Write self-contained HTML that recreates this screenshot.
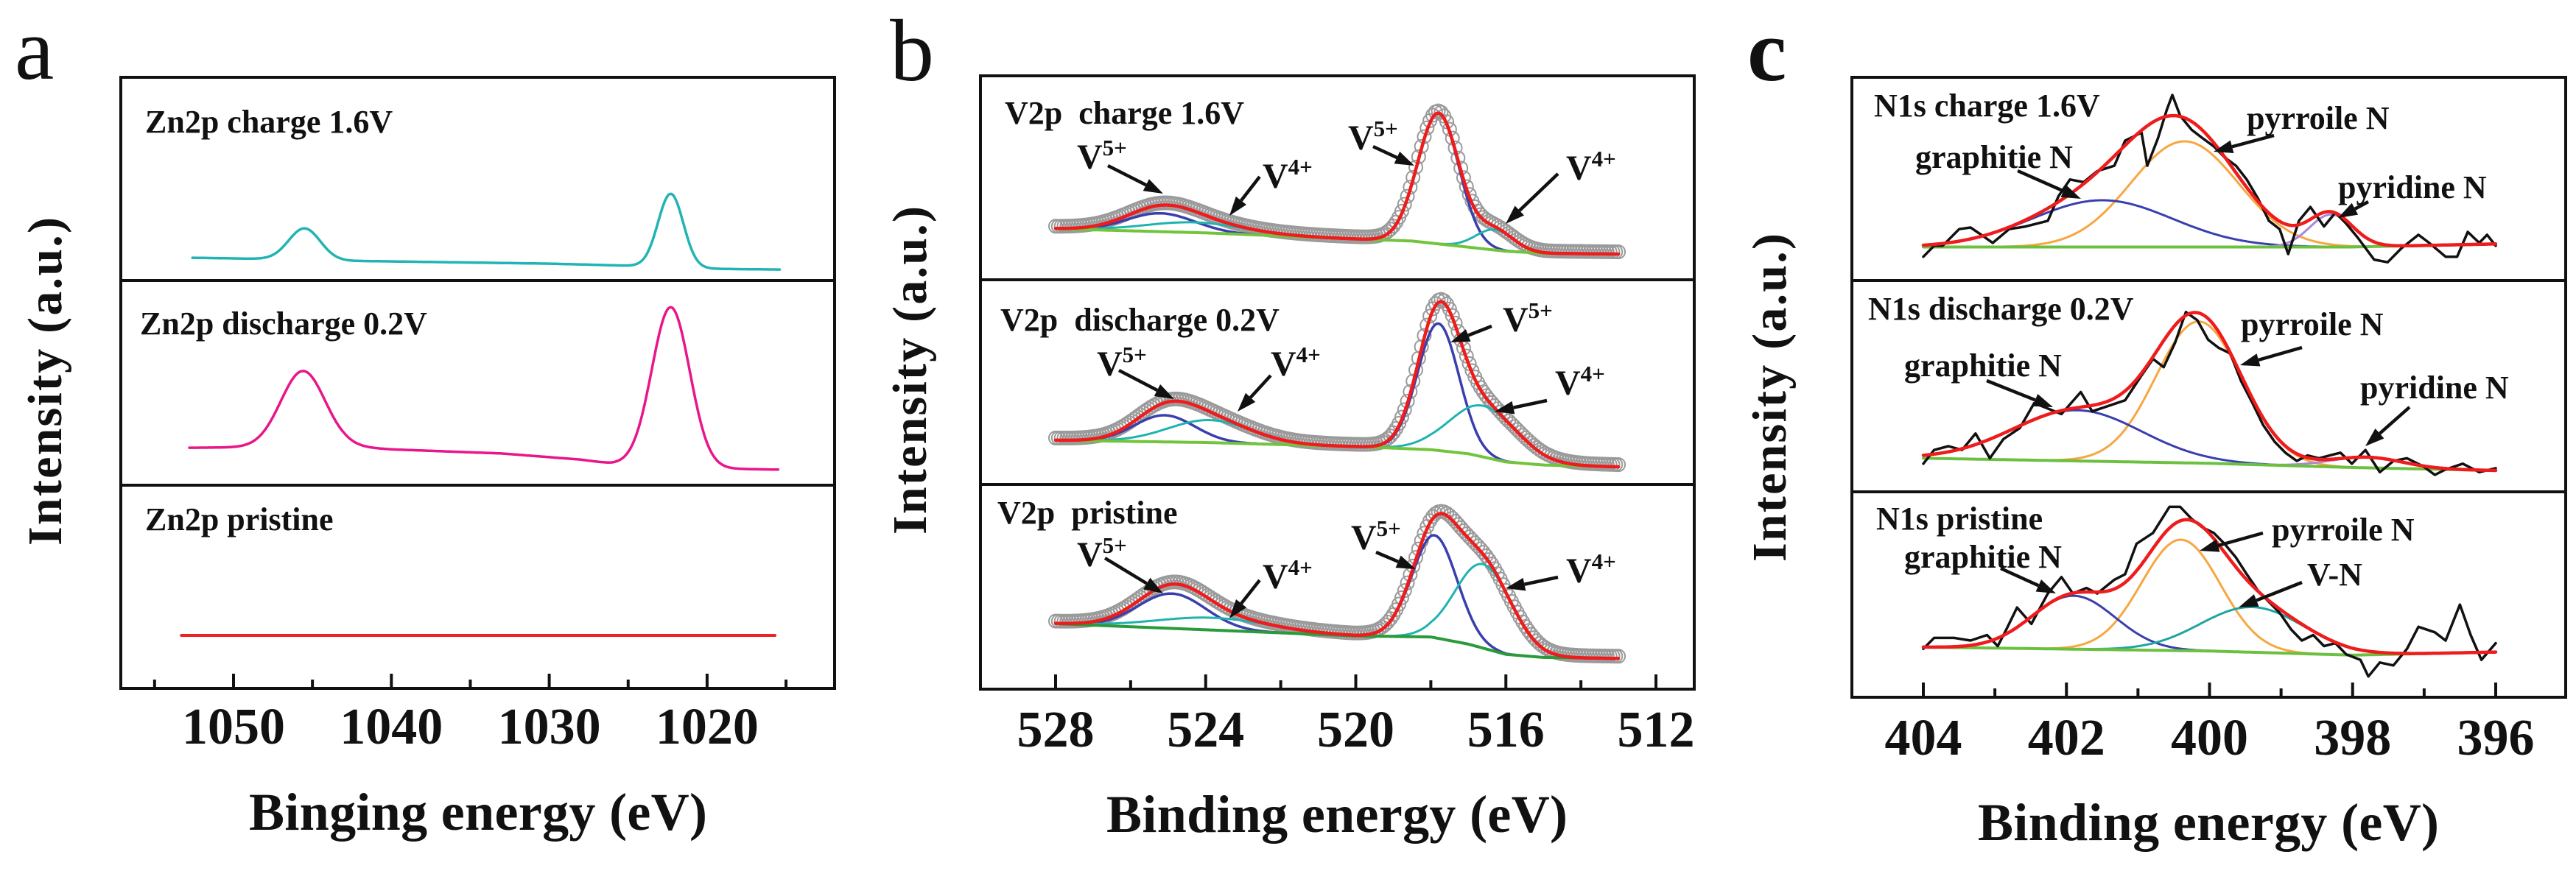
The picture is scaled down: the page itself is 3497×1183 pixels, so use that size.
<!DOCTYPE html>
<html><head><meta charset="utf-8"><style>
html,body{margin:0;padding:0;background:#fff}
svg{display:block}
text{font-family:"Liberation Serif",serif;font-weight:bold;fill:#111}
</style></head><body>
<svg id="fig" xmlns="http://www.w3.org/2000/svg" width="3497" height="1183" viewBox="0 0 3497 1183">
<rect width="3497" height="1183" fill="#fff"/>
<text x="20" y="107" font-size="120" style="font-weight:normal">a</text>
<text x="1208" y="109" font-size="120" style="font-weight:normal">b</text>
<text x="2372" y="109" font-size="120">c</text>
<g id="plots"></g>
<g fill="none" stroke="#111" stroke-width="4">
<rect x="164" y="105" width="969" height="830"/>
<line x1="164" y1="381" x2="1133" y2="381"/>
<line x1="164" y1="659" x2="1133" y2="659"/>
<rect x="1331" y="103" width="969" height="833"/>
<line x1="1331" y1="380" x2="2300" y2="380"/>
<line x1="1331" y1="658" x2="2300" y2="658"/>
<rect x="2514" y="105" width="969" height="842"/>
<line x1="2514" y1="381" x2="3483" y2="381"/>
<line x1="2514" y1="668" x2="3483" y2="668"/>
</g>
<text x="649" y="1127" font-size="72" text-anchor="middle" textLength="622">Binging energy (eV)</text>
<text x="1815" y="1130" font-size="72" text-anchor="middle" textLength="626">Binding energy (eV)</text>
<text x="2998" y="1141" font-size="72" text-anchor="middle" textLength="626">Binding energy (eV)</text>
<text transform="translate(83,518) rotate(-90)" font-size="66" text-anchor="middle" textLength="446">Intensity (a.u.)</text>
<text transform="translate(1257,503) rotate(-90)" font-size="66" text-anchor="middle" textLength="446">Intensity (a.u.)</text>
<text transform="translate(2424,540) rotate(-90)" font-size="66" text-anchor="middle" textLength="446">Intensity (a.u.)</text>
<g font-size="44">
<text x="197" y="180">Zn2p charge 1.6V</text>
<text x="190" y="454">Zn2p discharge 0.2V</text>
<text x="197" y="720">Zn2p pristine</text>
<text x="1364" y="168" xml:space="preserve">V2p  charge 1.6V</text>
<text x="1358" y="449" xml:space="preserve">V2p  discharge 0.2V</text>
<text x="1354" y="711" xml:space="preserve">V2p  pristine</text>
<text x="2544" y="158">N1s charge 1.6V</text>
<text x="2536" y="434">N1s discharge 0.2V</text>
<text x="2547" y="719">N1s pristine</text>
</g>
</svg>
<script>
// ---------- Panel a data ----------
const aTicks=[1055,1050,1045,1040,1035,1030,1025,1020,1015];
const aTickLabels=[1050,1040,1030,1020];
const aChargeBaseE=[1052.6,1047,1044,1040,1030,1025,1023,1021,1018,1015.4];
const aChargeBaseV=[11.2,10.5,9.8,9.4,8.3,7.3,7.0,6.0,5.6,5.4];
const aChargePeakC=[1045.5,1022.3];
const aChargePeakA=[15.5,36];
const aChargePeakS=[1.0,0.8];
const aDisBaseE=[1052.6,1048,1043,1040,1033,1028,1026,1024,1020,1015.4];
const aDisBaseV=[18.3,18.6,19.0,17.5,15.5,12.5,10.5,9.5,8.2,7.6];
const aDisPeakC=[1045.6,1022.3];
const aDisPeakA=[37,78];
const aDisPeakS=[1.4,1.2];
const aPristineE=[1053.3,1015.7];
const aPristineV=[26.1,26.1];
// ---------- Panel b data ----------
const bTicks=[528,526,524,522,520,518,516,514,512];
const bTickLabels=[528,524,520,516,512];
const bChargeBaseE=[528,524,520,518.5,517,516,515,513];
const bChargeBaseV=[25,23,20,19,16,14,13,12.6];
const bChargeBlueC=[525.2,517.8], bChargeBlueA=[9,64], bChargeBlueS=[0.9,0.55];
const bChargeCyanC=[524.3,516.3], bChargeCyanA=[5,10], bChargeCyanS=[1.3,0.5];
const bDisBaseE=[528,524,520,518,517,516,515,513];
const bDisBaseV=[21.6,20.5,18.5,17,15,11,9.5,8.6];
const bDisBlueC=[525.1,517.8], bDisBlueA=[13,62], bDisBlueS=[0.8,0.55];
const bDisCyanC=[523.9,516.6], bDisCyanA=[11,25], bDisCyanS=[1.1,0.9];
const bPriBaseE=[528,524,520,518,517,516,515,513];
const bPriBaseV=[32,29,26,25.5,22,17,15.5,15];
const bPriBlueC=[524.9,517.9], bPriBlueA=[17,50], bPriBlueS=[0.9,0.6];
const bPriCyanC=[523.8,516.6], bPriCyanA=[6,41], bPriCyanS=[1.5,0.75];
// ---------- Panel c data ----------
const cTicks=[404,403,402,401,400,399,398,397,396];
const cTickLabels=[404,402,400,398,396];
const cChargeBaseE=[404,398,396], cChargeBaseV=[16.5,16.5,18];
const cChargeOrangeC=[400.35], cChargeOrangeA=[52], cChargeOrangeS=[0.75];
const cChargeBlueC=[401.5], cChargeBlueA=[23], cChargeBlueS=[0.98];
const cChargePurpleC=[398.3], cChargePurpleA=[16], cChargePurpleS=[0.3];
const cChargeRawE=[404.00,403.85,403.73,403.50,403.34,403.19,403.03,402.80,402.57,402.26,402.11,401.95,401.76,401.57,401.33,401.18,400.95,400.87,400.72,400.60,400.52,400.41,400.25,400.10,399.94,399.79,399.63,399.48,399.32,399.17,399.02,398.90,398.75,398.59,398.40,398.24,398.09,397.93,397.70,397.51,397.32,397.08,396.93,396.70,396.54,396.39,396.23,396.12,396.00];
const cChargeRawV=[11.7,17.1,17.1,25.3,26.1,22.5,18.5,25.3,26.6,29.4,41.6,49.7,48.4,53.8,56.5,68.8,72.8,56.5,70.1,83.7,91.3,81.0,74.2,70.1,66.0,60.6,56.5,49.7,40.2,29.4,25.3,13.0,29.4,36.2,26.6,33.4,28.0,21.2,10.3,9.0,15.8,22.5,18.5,11.7,11.7,23.9,18.5,22.5,17.1];
const cDisBaseE=[404,400,398,396], cDisBaseV=[15.9,13.5,11.5,10.1];
const cDisOrangeC=[400.15], cDisOrangeA=[67], cDisOrangeS=[0.6];
const cDisBlueC=[401.85], cDisBlueA=[24], cDisBlueS=[0.9];
const cDisPurpleC=[397.8], cDisPurpleA=[5], cDisPurpleS=[0.5];
const cDisRawE=[404.00,403.85,403.65,403.46,403.27,403.07,402.88,402.65,402.45,402.26,402.07,401.80,401.64,401.41,401.18,400.95,400.79,400.64,400.48,400.33,400.17,400.02,399.87,399.71,399.56,399.40,399.25,399.09,398.94,398.78,398.63,398.47,398.32,398.17,398.01,397.82,397.62,397.43,397.24,397.01,396.85,396.70,396.46,396.23,396.00];
const cDisRawV=[13.3,19.8,21.6,19.8,27.6,15.9,25.0,30.2,42.0,39.4,36.8,47.2,38.1,40.7,43.3,55.1,62.9,59.0,70.7,85.1,81.2,72.0,68.1,65.5,52.5,42.0,31.6,23.7,18.5,14.6,17.2,15.9,17.2,18.5,13.3,19.8,9.3,14.6,15.9,12.0,8.0,10.6,13.3,9.3,11.2];
const cPriBaseE=[404,400,398,396], cPriBaseV=[24.4,22.5,20.5,22];
const cPriOrangeC=[400.4], cPriOrangeA=[54], cPriOrangeS=[0.55];
const cPriBlueC=[401.9], cPriBlueA=[26], cPriBlueS=[0.58];
const cPriCyanC=[399.4], cPriCyanA=[22], cPriCyanS=[0.72];
const cPriRawE=[404.00,403.85,403.57,403.34,403.11,402.96,402.84,402.69,402.49,402.26,402.07,401.91,401.72,401.57,401.33,401.18,401.02,400.79,400.56,400.41,400.25,400.10,399.94,399.79,399.63,399.48,399.32,399.17,399.02,398.86,398.71,398.55,398.40,398.24,398.09,397.89,397.78,397.62,397.43,397.24,397.08,396.85,396.70,396.50,396.35,396.20,396.00];
const cPriRawV=[23.6,28.9,28.9,27.6,30.3,24.9,33.0,43.7,35.7,50.5,58.5,50.5,53.2,50.5,57.2,59.9,74.7,80.0,92.7,92.7,86.8,82.7,80.0,74.7,68.0,59.9,51.8,46.4,41.1,33.0,27.6,30.3,24.9,26.3,20.9,18.2,10.1,16.9,15.5,23.6,34.3,31.6,27.6,45.1,30.3,18.2,26.3];

// ---------- helpers ----------
const NS="http://www.w3.org/2000/svg";
const root=document.getElementById('plots');
function mk(tag,parent){const e=document.createElementNS(NS,tag);parent.appendChild(e);return e;}
function setA(e,o){for(const k in o)e.setAttribute(k,o[k]);}
const xA=e=>317+(1050-e)*21.43;
const xB=e=>1433+(528-e)*50.94;
const xC=e=>2611+(404-e)*97.125;
const yS=(top,bot)=>v=>bot-v/100*(bot-top);
function interp(E,V,x){
  if(x>=E[0])return V[0];
  for(let i=1;i<E.length;i++){if(x>=E[i]){const t=(E[i-1]-x)/(E[i-1]-E[i]);return V[i-1]+t*(V[i]-V[i-1]);}}
  return V[V.length-1];
}
function peaks(x,C,A,S){let s=0;for(let i=0;i<C.length;i++)s+=A[i]*Math.exp(-(x-C[i])*(x-C[i])/(2*S[i]*S[i]));return s;}
function grid(e0,e1,n){const g=[];for(let i=0;i<=n;i++)g.push(e0+(e1-e0)*i/n);return g;}
function pathFrom(xs,ys,fx,fy){return xs.map((x,i)=>(i?'L':'M')+fx(x).toFixed(1)+' '+fy(ys[i]).toFixed(1)).join(' ');}
function line(parent,d,color,w,name){
  const p=mk('path',parent);
  setA(p,{d:d,fill:'none',stroke:color,'stroke-width':w,'stroke-linejoin':'round','stroke-linecap':'round'});
  
  
  return p;
}
function ticks(parent,T,L,fx,bot,labelY,name){
  T.forEach(t=>{
    const major=L.indexOf(t)>=0;
    const l=mk('line',parent);
    setA(l,{x1:fx(t),x2:fx(t),y1:bot,y2:bot-(major?20:12),stroke:'#111','stroke-width':4});
    
    
  });
  L.forEach(t=>{
    const tx=mk('text',parent);
    setA(tx,{x:fx(t),y:labelY,'font-size':70,'text-anchor':'middle'});
    tx.textContent=t;
    
    
  });
}
function arrow(parent,x1,y1,x2,y2){
  const g=mk('g',parent);
  
  
  const dx=x2-x1,dy=y2-y1,L=Math.hypot(dx,dy),ux=dx/L,uy=dy/L;
  const hl=26,hw=9;
  const bx=x2-ux*hl,by=y2-uy*hl;
  const l=mk('line',g);setA(l,{x1:x1,y1:y1,x2:bx,y2:by,stroke:'#111','stroke-width':4.5});
  const p=mk('polygon',g);
  setA(p,{points:`${x2},${y2} ${bx-uy*hw},${by+ux*hw} ${bx+uy*hw},${by-ux*hw}`,fill:'#111'});
}
function label(parent,x,y,txt,size,name){
  const t=mk('text',parent);setA(t,{x:x,y:y,'font-size':size});t.textContent=txt;
  
  
}
function vlabel(parent,x,y,sup){
  const t=mk('text',parent);setA(t,{x:x,y:y,'font-size':48});
  
  
  t.appendChild(document.createTextNode('V'));
  const s=mk('tspan',t);setA(s,{dy:-18,'font-size':31});s.textContent=sup;
}

// ---------- Panel a ----------
const ga=mk('g',root);
ticks(ga,aTicks,aTickLabels,xA,935,1010,'x-axis-a');
(function(){
  const yc=yS(105,381),g1=grid(1052.6,1015.4,600);
  line(ga,pathFrom(g1,g1.map(e=>interp(aChargeBaseE,aChargeBaseV,e)+peaks(e,aChargePeakC,aChargePeakA,aChargePeakS)),xA,yc),'#22b4b4',3.5,'zn-charge-spectrum');
  const yd=yS(381,659),g2=grid(1052.8,1015.5,600);
  line(ga,pathFrom(g2,g2.map(e=>interp(aDisBaseE,aDisBaseV,e)+peaks(e,aDisPeakC,aDisPeakA,aDisPeakS)),xA,yd),'#e8168a',3.5,'zn-discharge-spectrum');
  const yp=yS(659,935);
  line(ga,pathFrom(aPristineE,aPristineV,xA,yp),'#ee2222',4,'zn-pristine-spectrum');
})();

// ---------- Panel b ----------
const gb=mk('g',root);
ticks(gb,bTicks,bTickLabels,xB,936,1014,'x-axis-b');
function vPanel(top,bot,BE,BV,BC,BA,BS,CC,CA,CS,green,name){
  const y=yS(top,bot),g=grid(528,513,500);
  const base=g.map(e=>interp(BE,BV,e));
  const total=g.map((e,i)=>base[i]+peaks(e,BC,BA,BS)+peaks(e,CC,CA,CS));
  const cg=mk('g',gb);
  grid(528,513,200).forEach(e=>{
    const c=mk('circle',cg);
    setA(c,{cx:xB(e),cy:y(interp(BE,BV,e)+peaks(e,BC,BA,BS)+peaks(e,CC,CA,CS))-3,r:9,fill:'none',stroke:'#9a9a9a','stroke-width':2});
  });
  line(gb,pathFrom(g,g.map((e,i)=>base[i]+peaks(e,BC,BA,BS)),xB,y),'#3a3fae',3.5,name+'-v5-component');
  line(gb,pathFrom(g,g.map((e,i)=>base[i]+peaks(e,CC,CA,CS)),xB,y),'#1fb3b0',3,name+'-v4-component');
  line(gb,pathFrom(g,base,xB,y),green,4,name+'-background');
  line(gb,pathFrom(g,total,xB,y),'#ee1c1c',4.5,name+'-fit-envelope');
}
vPanel(103,380,bChargeBaseE,bChargeBaseV,bChargeBlueC,bChargeBlueA,bChargeBlueS,bChargeCyanC,bChargeCyanA,bChargeCyanS,'#72c43c','v-charge');
vPanel(380,658,bDisBaseE,bDisBaseV,bDisBlueC,bDisBlueA,bDisBlueS,bDisCyanC,bDisCyanA,bDisCyanS,'#72c43c','v-discharge');
vPanel(658,936,bPriBaseE,bPriBaseV,bPriBlueC,bPriBlueA,bPriBlueS,bPriCyanC,bPriCyanA,bPriCyanS,'#2a9a3a','v-pristine');
[[1462,229,'5+',1504,225,1579,263],[1714,255,'4+',1710,240,1669,293],[1830,203,'5+',1864,199,1920,225],[2126,244,'4+',2115,236,2044,304],
 [1489,510,'5+',1519,503,1594,542],[1725,510,'4+',1725,510,1680,559],[2040,450,'5+',2025,443,1969,465],[2111,536,'4+',2100,544,2029,559],
 [1462,769,'5+',1500,758,1579,806],[1714,799,'4+',1710,788,1669,840],[1834,746,'5+',1868,750,1922,773],[2126,791,'4+',2115,784,2044,799]
].forEach(a=>{vlabel(gb,a[0],a[1],a[2]);arrow(gb,a[3],a[4],a[5],a[6]);});

// ---------- Panel c ----------
const gc=mk('g',root);
ticks(gc,cTicks,cTickLabels,xC,947,1025,'x-axis-c');
function nPanel(top,bot,BE,BV,comps,RE,RV,name){
  const y=yS(top,bot),g=grid(404,396,400);
  const base=g.map(e=>interp(BE,BV,e));
  comps.forEach(c=>line(gc,pathFrom(g,g.map((e,i)=>base[i]+peaks(e,c[0],c[1],c[2])),xC,y),c[3],3,name+'-'+c[4]+'-component'));
  line(gc,pathFrom(g,base,xC,y),'#6cc040',4,name+'-background');
  line(gc,pathFrom(RE,RV,xC,y),'#111',3.5,name+'-raw-spectrum');
  line(gc,pathFrom(g,g.map((e,i)=>base[i]+comps.reduce((s,c)=>s+peaks(e,c[0],c[1],c[2]),0)),xC,y),'#ee1c1c',4.5,name+'-fit-envelope');
}
nPanel(105,381,cChargeBaseE,cChargeBaseV,[[cChargeOrangeC,cChargeOrangeA,cChargeOrangeS,'#f8a640','pyrrolic'],[cChargeBlueC,cChargeBlueA,cChargeBlueS,'#3a3fae','graphitic'],[cChargePurpleC,cChargePurpleA,cChargePurpleS,'#a58ad6','pyridinic']],cChargeRawE,cChargeRawV,'n-charge');
nPanel(381,668,cDisBaseE,cDisBaseV,[[cDisOrangeC,cDisOrangeA,cDisOrangeS,'#f8a640','pyrrolic'],[cDisBlueC,cDisBlueA,cDisBlueS,'#3a3fae','graphitic'],[cDisPurpleC,cDisPurpleA,cDisPurpleS,'#a58ad6','pyridinic']],cDisRawE,cDisRawV,'n-discharge');
nPanel(668,947,cPriBaseE,cPriBaseV,[[cPriOrangeC,cPriOrangeA,cPriOrangeS,'#f8a640','pyrrolic'],[cPriBlueC,cPriBlueA,cPriBlueS,'#3a3fae','graphitic'],[cPriCyanC,cPriCyanA,cPriCyanS,'#1fa5a0','v-n']],cPriRawE,cPriRawV,'n-pristine');
[[2600,228,'graphitie N',2739,232,2825,270],[3050,175,'pyrroile N',3087,184,3005,206],[3174,269,'pyridine N',3215,274,3174,296],
 [2585,511,'graphitie N',2697,517,2787,553],[3042,455,'pyrroile N',3125,472,3041,496],[3204,541,'pyridine N',3271,553,3211,606],
 [2585,771,'graphitie N',2716,772,2791,806],[3084,734,'pyrroile N',3072,724,2986,748],[3132,795,'V-N',3125,791,3039,825]
].forEach(a=>{label(gc,a[0],a[1],a[2],44,'peak-label');arrow(gc,a[3],a[4],a[5],a[6]);});
</script>
</body></html>
